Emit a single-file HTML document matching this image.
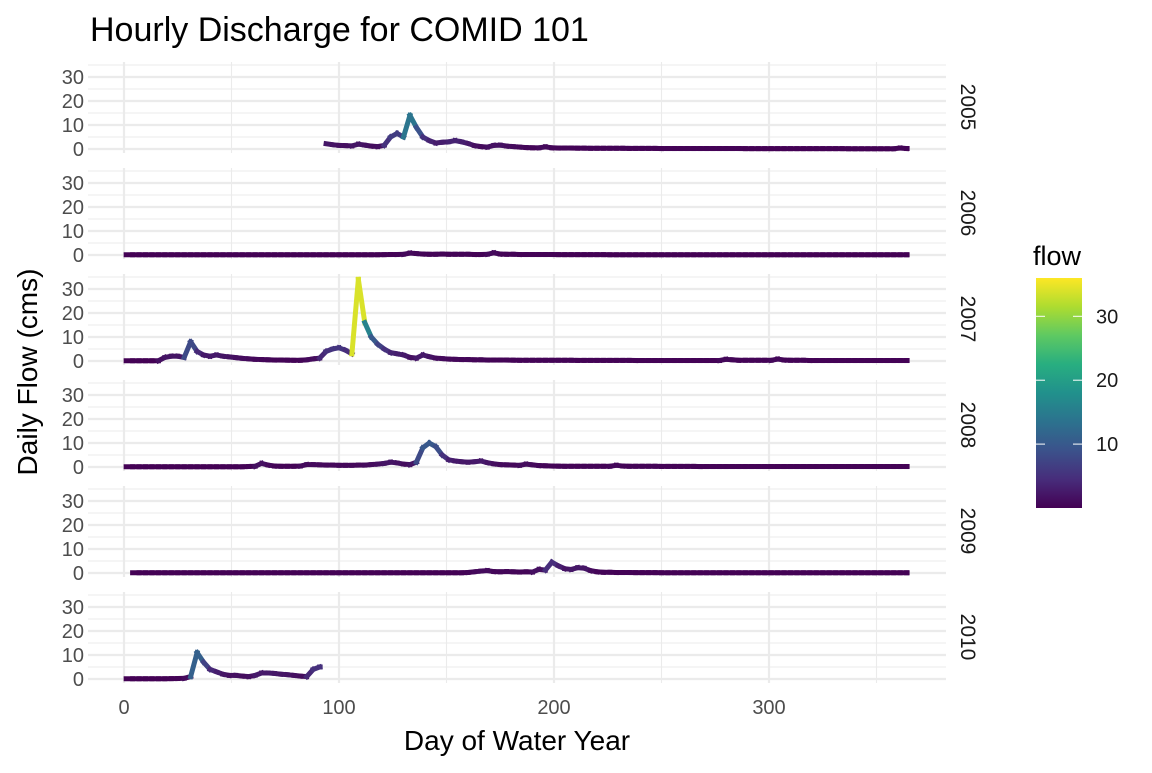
<!DOCTYPE html>
<html><head><meta charset="utf-8"><style>
html,body{margin:0;padding:0;background:#fff;}
svg text{font-family:"Liberation Sans",Arial,sans-serif;}
</style></head><body>
<svg id="chart" width="1152" height="768" viewBox="0 0 1152 768" xmlns="http://www.w3.org/2000/svg">
<defs>
<linearGradient id="vir" x1="0" y1="1" x2="0" y2="0">
<stop offset="0" stop-color="#440154"/><stop offset="0.125" stop-color="#472d7b"/><stop offset="0.25" stop-color="#3b528b"/><stop offset="0.375" stop-color="#2c728e"/><stop offset="0.5" stop-color="#21918c"/><stop offset="0.625" stop-color="#28ae80"/><stop offset="0.75" stop-color="#5ec962"/><stop offset="0.875" stop-color="#addc30"/><stop offset="1" stop-color="#fde725"/>
</linearGradient>
</defs>
<text x="90" y="41" font-size="34" fill="#000">Hourly Discharge for COMID 101</text>
<text x="517" y="750" font-size="28" fill="#000" text-anchor="middle">Day of Water Year</text>
<text transform="translate(37,372) rotate(-90)" font-size="28" fill="#000" text-anchor="middle">Daily Flow (cms)</text>
<g id="panels"></g>
<g>
<text x="1033" y="265" font-size="27" fill="#000">flow</text>
<rect x="1036" y="278" width="46" height="230" fill="url(#vir)"/>
<g id="legend-ticks"></g>
</g>
</svg>
<script>
const years = ["2005","2006","2007","2008","2009","2010"];
const xTicks = [0,100,200,300];
const yTicks = [0,10,20,30];
const legendTicks = [10,20,30];
const dayStep = 3; // samples at day 1,4,7,...,364
const N = null;
const flow2005 = [N,N,N,N,N,N,N,N,N,N,N,N,N,N,N,N,N,N,N,N,N,N,N,N,N,N,N,N,N,N,N,
2.2,1.8,1.5,1.4,1.3,2.0,1.6,1.2,1.0,1.5,5,6.5,5,14,9,5,3.5,2.5,2.8,3,3.5,3,2.3,1.4,1,0.8,1.5,1.6,1.2,1.0,0.8,0.6,0.5,0.5,0.9,0.5,
0.4,0.4,0.4,0.35,0.35,0.3,0.3,0.3,0.3,0.3,0.3,0.25,0.25,0.25,0.25,0.25,0.2,0.2,0.2,0.2,0.2,0.2,0.2,0.2,0.2,0.2,0.2,0.2,0.2,0.15,0.15,0.15,0.15,0.15,0.15,0.15,0.15,0.15,0.15,0.15,0.15,0.15,0.15,0.15,0.15,0.1,0.1,0.1,0.1,0.1,0.1,0.1,0.1,0.4,0.2];
const flow2006 = [0.1,0.1,0.1,0.1,0.1,0.1,0.1,0.1,0.1,0.1,0.1,0.1,0.1,0.1,0.1,0.1,0.1,0.1,0.1,0.1,0.1,0.1,0.1,0.1,0.1,0.1,0.1,0.1,0.1,0.1,0.1,0.1,0.1,0.1,0.1,0.1,0.1,0.1,0.1,0.1,0.15,0.2,0.2,0.3,0.8,0.6,0.4,0.3,0.3,0.4,0.3,0.3,0.3,0.3,0.2,0.2,0.3,0.9,0.4,0.3,0.3,0.2,0.2,0.2,0.2,0.2,0.2,0.15,0.15,0.15,0.15,0.15,0.15,0.15,0.15,0.1,0.1,0.1,0.1,0.1,0.1,0.1,0.1,0.1,0.1,0.1,0.1,0.1,0.1,0.1,0.1,0.1,0.1,0.1,0.1,0.1,0.1,0.1,0.1,0.1,0.1,0.1,0.1,0.1,0.1,0.1,0.1,0.1,0.1,0.1,0.1,0.1,0.1,0.1,0.1,0.1,0.1,0.1,0.1,0.1,0.1,0.1];
const flow2007 = [0.1,0.1,0.1,0.1,0.1,0.1,1.5,2,2,1.5,8,4,2.5,2,2.5,2,1.7,1.4,1.1,0.9,0.7,0.6,0.5,0.4,0.4,0.35,0.3,0.3,0.5,0.9,1.2,4,5,5.5,4.5,3,34,16,10,7,5,3.5,3,2.5,1.5,1.2,2.5,1.8,1.2,1.0,0.8,0.7,0.6,0.6,0.5,0.5,0.4,0.4,0.4,0.4,0.35,0.3,0.3,0.3,0.3,0.3,0.3,0.3,0.3,0.3,0.25,0.25,0.25,0.25,0.25,0.25,0.25,0.25,0.25,0.2,0.2,0.2,0.2,0.2,0.2,0.2,0.2,0.2,0.2,0.2,0.2,0.2,0.2,0.7,0.5,0.3,0.3,0.3,0.3,0.3,0.3,0.8,0.4,0.3,0.3,0.3,0.2,0.2,0.2,0.2,0.2,0.2,0.2,0.2,0.2,0.2,0.2,0.2,0.2,0.2,0.2,0.2];
const flow2008 = [0.1,0.1,0.1,0.1,0.1,0.1,0.1,0.1,0.1,0.1,0.1,0.1,0.1,0.1,0.1,0.1,0.1,0.1,0.1,0.2,0.3,1.5,0.8,0.4,0.3,0.3,0.3,0.4,1,1,0.9,0.8,0.8,0.7,0.7,0.7,0.8,0.8,1,1.2,1.5,2,1.7,1.2,1.0,2,8,10,8.5,5,3,2.5,2.2,2,2.2,2.5,1.8,1.3,1,0.9,0.8,0.7,1.2,0.9,0.6,0.5,0.4,0.35,0.3,0.3,0.3,0.3,0.3,0.3,0.3,0.3,0.7,0.4,0.3,0.3,0.3,0.3,0.3,0.25,0.25,0.25,0.25,0.25,0.25,0.2,0.2,0.2,0.2,0.2,0.2,0.2,0.2,0.2,0.2,0.2,0.2,0.2,0.2,0.2,0.2,0.2,0.2,0.2,0.2,0.2,0.2,0.2,0.2,0.2,0.2,0.2,0.2,0.2,0.2,0.2,0.2,0.2];
const flow2009 = [N,0.1,0.1,0.1,0.1,0.1,0.1,0.1,0.1,0.1,0.1,0.1,0.1,0.1,0.1,0.1,0.1,0.1,0.1,0.1,0.1,0.1,0.1,0.1,0.1,0.1,0.1,0.1,0.1,0.1,0.1,0.1,0.1,0.1,0.1,0.1,0.1,0.1,0.1,0.1,0.1,0.1,0.1,0.1,0.1,0.1,0.1,0.1,0.1,0.1,0.1,0.1,0.1,0.2,0.5,0.8,1,0.6,0.5,0.6,0.5,0.4,0.5,0.4,1.5,1.2,4.5,3,1.8,1.5,2.2,2,1,0.5,0.3,0.3,0.2,0.2,0.2,0.15,0.15,0.15,0.15,0.1,0.1,0.1,0.1,0.1,0.1,0.1,0.1,0.1,0.1,0.1,0.1,0.1,0.1,0.1,0.1,0.1,0.1,0.1,0.1,0.1,0.1,0.1,0.1,0.1,0.1,0.1,0.1,0.1,0.1,0.1,0.1,0.1,0.1,0.1,0.1,0.1,0.1,0.1];
const flow2010 = [0.1,0.1,0.1,0.1,0.1,0.1,0.1,0.15,0.2,0.3,1.0,11,7,4,3,2,1.5,1.5,1.2,1,1.5,2.5,2.5,2.3,2,1.8,1.5,1.2,1,4,5,
N,N,N,N,N,N,N,N,N,N,N,N,N,N,N,N,N,N,N,N,N,N,N,N,N,N,N,N,N,N,N,N,N,N,N,N,N,N,N,N,N,N,N,N,N,N,N,N,N,N,N,N,N,N,N,N,N,N,N,N,N,N,N,N,N,N,N,N,N,N,N,N,N,N,N,N];
const series = [flow2005,flow2006,flow2007,flow2008,flow2009,flow2010];

const NS="http://www.w3.org/2000/svg";
const X0=124, XS=2.15, YS=2.4;
const xScale = d => X0 + d*XS;
const panelTop = i => 62 + i*106;
const yScale = (i,v) => panelTop(i) + 87 - v*YS;
const vstops=["#440154","#472d7b","#3b528b","#2c728e","#21918c","#28ae80","#5ec962","#addc30","#fde725"];
function hex(c){return [1,3,5].map(k=>parseInt(c.substr(k,2),16));}
function color(v){
  let t=Math.max(0,Math.min(1,v/36))*(vstops.length-1);
  let k=Math.min(Math.floor(t),vstops.length-2), f=t-k;
  const a=hex(vstops[k]), b=hex(vstops[k+1]);
  return "rgb("+a.map((x,j)=>Math.round(x+(b[j]-x)*f)).join(",")+")";
}
function mk(tag,attrs,parent){const e=document.createElementNS(NS,tag);for(const k in attrs)e.setAttribute(k,attrs[k]);parent.appendChild(e);return e;}
const panels=document.getElementById("panels");
years.forEach((yr,i)=>{
  const g=mk("g",{},panels);
  
  
  const top=panelTop(i), bot=top+91;
  [5,15,25,35].forEach(v=>{const l=mk("line",{x1:88,x2:946,y1:yScale(i,v),y2:yScale(i,v),stroke:"#ebebeb","stroke-width":1.1},g);
    
    });
  [50,150,250,350].forEach(d=>{const l=mk("line",{x1:xScale(d),x2:xScale(d),y1:top,y2:bot,stroke:"#ebebeb","stroke-width":1.1},g);
    
    });
  yTicks.forEach(v=>{const l=mk("line",{x1:88,x2:946,y1:yScale(i,v),y2:yScale(i,v),stroke:"#ebebeb","stroke-width":2.2},g);
    
    
    const t=mk("text",{x:84,y:yScale(i,v)+7,"font-size":20,fill:"#4d4d4d","text-anchor":"end"},g);
    t.textContent=v;
    
    });
  xTicks.forEach(d=>{const l=mk("line",{x1:xScale(d),x2:xScale(d),y1:top,y2:bot,stroke:"#ebebeb","stroke-width":2.2},g);
    
    });
  const s=mk("text",{transform:"translate(961,"+(top+45)+") rotate(90)","font-size":21,fill:"#1a1a1a","text-anchor":"middle"},g);
  s.textContent=yr;
  
  
  const data=series[i];
  for(let k=0;k<data.length;k++){
    const v=data[k]; if(v==null) continue;
    const d=1+k*dayStep;
    const n=data[k+1];
    const x1=xScale(d), y1=yScale(i,v);
    let x2=x1+0.5, y2=y1;
    if(n!=null && k+1<data.length){x2=xScale(d+dayStep); y2=yScale(i,n);}
    const seg=mk("line",{x1:x1,y1:y1,x2:x2,y2:y2,stroke:color(Math.max(v,n==null?v:n)),"stroke-width":5,"stroke-linecap":"square"},g);
    
    
  }
});
const xg=mk("g",{},panels);


xTicks.forEach(d=>{const t=mk("text",{x:xScale(d),y:714,"font-size":20,fill:"#4d4d4d","text-anchor":"middle"},xg);
  t.textContent=d;
  
  });
const lg=document.getElementById("legend-ticks");
legendTicks.forEach(v=>{const y=508-v*6.39;
  const a=mk("line",{x1:1036,x2:1045,y1:y,y2:y,stroke:"#fff","stroke-width":1},lg);
  
  
  const b=mk("line",{x1:1073,x2:1082,y1:y,y2:y,stroke:"#fff","stroke-width":1},lg);
  
  
  const t=mk("text",{x:1096,y:y+7,"font-size":20,fill:"#1a1a1a"},lg);
  t.textContent=v;
  
  });
</script>
</body></html>
